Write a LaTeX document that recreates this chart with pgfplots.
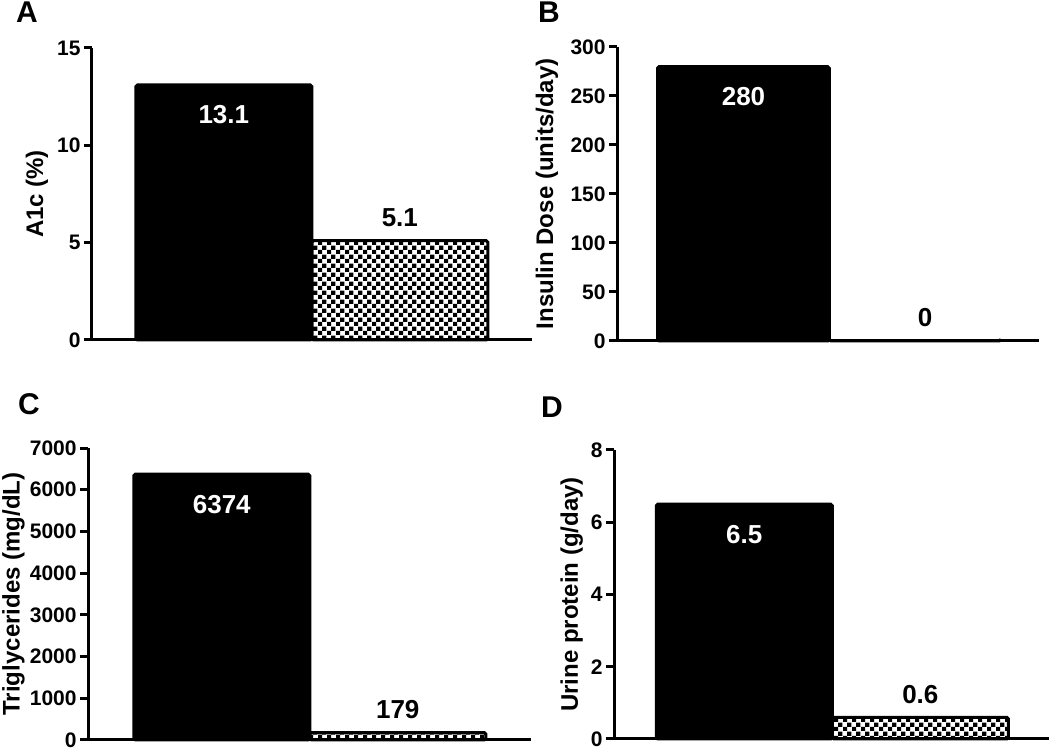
\documentclass[border=0pt]{standalone}
\usepackage{fontspec}
\setmainfont{Liberation Sans}
\usepackage{pgfplots}
\pgfplotsset{compat=1.18}
\usetikzlibrary{patterns.meta}

\tikzdeclarepattern{
  name=mycheck,
  type=uncolored,
  bounding box={(0pt,0pt) and (4.3pt,4.3pt)},
  tile size={(4.3pt,4.3pt)},
  code={
    \pgfpathrectangle{\pgfpointorigin}{\pgfqpoint{2.2pt}{2.2pt}}
    \pgfpathrectangle{\pgfqpoint{2.15pt}{2.15pt}}{\pgfqpoint{2.2pt}{2.2pt}}
    \pgfusepath{fill}
  }
}

\pgfplotsset{
  panel/.style={
    scale only axis,
    anchor=south west,
    axis x line=bottom, axis y line=left,
    axis line style={-, line width=1.5pt},
    xtick=\empty,
    ytick style={line width=1.5pt, black},
    major tick length=4pt,
    tick align=outside,
    ymin=0,
    bar width=1,
    /pgf/number format/assume math mode=true,
    /pgf/number format/1000 sep={},
    tick label style={font=\bfseries\fontsize{10.5}{11}\selectfont},
    yticklabel style={inner sep=1.5pt},
    ylabel style={font=\bfseries\fontsize{12}{13}\selectfont, anchor=center},
    clip=false,
  },
  blackbar/.style={ybar, bar shift=0pt, fill=black, draw=black, line width=1.5pt, rounded corners=0.8pt,
    nodes near coords,
    nodes near coords style={text=white, anchor=center, yshift=-15pt, font=\bfseries\fontsize{13}{14}\selectfont}},
  checkbar/.style={ybar, bar shift=0pt, pattern={mycheck}, pattern color=black, draw=black, line width=1.5pt, rounded corners=0.8pt,
    nodes near coords,
    nodes near coords style={text=black, anchor=center, yshift=11.5pt, font=\bfseries\fontsize{13}{14}\selectfont}},
}

\begin{document}
\begin{tikzpicture}
\path[use as bounding box] (0,0) rectangle (525pt,374pt);

% Panel A
\begin{axis}[panel, at={(46pt,204pt)}, width=220pt, height=146pt,
  xmin=-0.749, xmax=1.751, ymax=15, ytick={0,5,10,15},
  ylabel={A1c (\%)}, ylabel style={at={(axis description cs:-0.125,0.5)}}]
\addplot[blackbar] coordinates {(0,13.1)};
\addplot[checkbar] coordinates {(1,5.1)};
\end{axis}

% Panel B
\begin{axis}[panel, at={(308.5pt,203.5pt)}, width=211pt, height=147pt,
  xmin=-0.737, xmax=1.722, ymax=300, ytick={0,50,100,150,200,250,300},
  ylabel={Insulin Dose (units/day)}, ylabel style={at={(axis description cs:-0.166,0.5)}}]
\addplot[blackbar] coordinates {(0,280)};
\addplot[checkbar, nodes near coords style={xshift=5pt}] coordinates {(1,0)};
\end{axis}

% Panel C
\begin{axis}[panel, at={(44pt,4pt)}, width=221.5pt, height=146pt,
  xmin=-0.76, xmax=1.757, ymax=7000, ytick={0,1000,2000,3000,4000,5000,6000,7000},
  ylabel={Triglycerides (mg/dL)}, ylabel style={at={(axis description cs:-0.168,0.5)}}]
\addplot[blackbar] coordinates {(0,6374)};
\addplot[checkbar] coordinates {(1,179)};
\end{axis}

% Panel D
\begin{axis}[panel, at={(307pt,4.5pt)}, width=217.5pt, height=144.5pt,
  xmin=-0.74, xmax=1.731, ymax=8, ytick={0,2,4,6,8},
  ylabel={Urine protein (g/day)}, ylabel style={at={(axis description cs:-0.097,0.5)}}]
\addplot[blackbar] coordinates {(0,6.5)};
\addplot[checkbar] coordinates {(1,0.6)};
\end{axis}

\node[font=\bfseries\fontsize{15}{16}\selectfont] at (13.5pt,368pt) {A};
\node[font=\bfseries\fontsize{15}{16}\selectfont] at (274.5pt,368pt) {B};
\node[font=\bfseries\fontsize{15}{16}\selectfont] at (14.5pt,172pt) {C};
\node[font=\bfseries\fontsize{15}{16}\selectfont] at (276pt,170.5pt) {D};
\end{tikzpicture}
\end{document}
